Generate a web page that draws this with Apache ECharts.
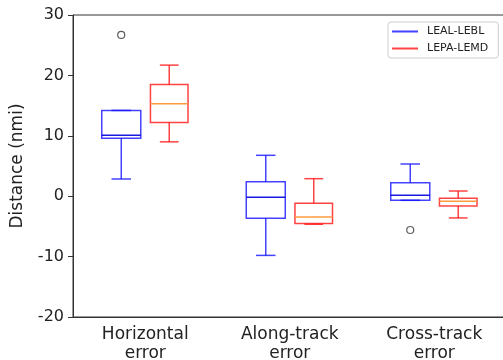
<!DOCTYPE html>
<html>
<head>
<meta charset="utf-8">
<script src="https://cdn.jsdelivr.net/npm/echarts@6/dist/echarts.min.js"></script>
<style>html,body{margin:0;padding:0;background:#fff;}#c{width:503px;height:360px;}</style>
</head>
<body>
<div id="c"></div>
<script>
var categories = ['Horizontal\nerror', 'Along-track\nerror', 'Cross-track\nerror'];
var seriesNames = ['LEAL-LEBL', 'LEPA-LEMD'];
// [lowWhisker, q1, median, q3, highWhisker]
var lealStats = [[2.85, 9.6, 10.1, 14.2, 14.2], [-9.8, -3.66, -0.18, 2.4, 6.77], [-0.68, -0.68, 0.15, 2.24, 5.33]];
var lepaStats = [[9.0, 12.2, 15.3, 18.5, 21.7], [-4.65, -4.5, -3.44, -1.18, 2.9], [-3.6, -1.62, -0.85, -0.35, 0.86]];
var lealOutliers = [[0, 26.7], [2, -5.6]];
var yTicks = [-20, -10, 0, 10, 20, 30];

var FONT = 'DejaVu Sans';
function toData(stats) {
  return stats.map(function (s, i) { return [i].concat(s); });
}
function makeRender(offFrac, widthFrac, color, medColor) {
  return function (params, api) {
    var cat = api.value(0);
    var band = api.size([1, 0])[0];
    var cx = api.coord([cat, 0])[0] + offFrac * band;
    var w = widthFrac * band;
    var capW = w / 2;
    function Y(k) { return api.coord([cat, api.value(k)])[1]; }
    var yMin = Y(1), yQ1 = Y(2), yMed = Y(3), yQ3 = Y(4), yMax = Y(5);
    var st = { stroke: color, lineWidth: 1.5, fill: null };
    return {
      type: 'group',
      children: [
        { type: 'rect', shape: { x: cx - w / 2, y: yQ3, width: w, height: yQ1 - yQ3 }, style: st },
        { type: 'line', shape: { x1: cx, y1: yQ3, x2: cx, y2: yMax }, style: st },
        { type: 'line', shape: { x1: cx, y1: yQ1, x2: cx, y2: yMin }, style: st },
        { type: 'line', shape: { x1: cx - capW / 2, y1: yMax, x2: cx + capW / 2, y2: yMax }, style: st },
        { type: 'line', shape: { x1: cx - capW / 2, y1: yMin, x2: cx + capW / 2, y2: yMin }, style: st },
        { type: 'line', shape: { x1: cx - w / 2, y1: yMed, x2: cx + w / 2, y2: yMed }, style: { stroke: medColor, lineWidth: 1.5 } }
      ]
    };
  };
}
var BLUE = 'rgba(20,20,255,0.8)';
var RED = 'rgba(255,20,20,0.8)';
var chart = echarts.init(document.getElementById('c'), null, { renderer: 'canvas' });
chart.setOption({
  animation: false,
  textStyle: { fontFamily: FONT },
  grid: { left: 73, top: 15, bottom: 43, right: -3.5, outerBoundsMode: 'none', containLabel: false, show: true, borderColor: '#333', borderWidth: 1, backgroundColor: 'transparent' },
  legend: {
    data: seriesNames,
    orient: 'vertical',
    left: 388, top: 22,
    itemWidth: 26, itemHeight: 2, itemGap: 6,
    padding: [4, 10, 4, 4],
    borderColor: '#ccc', borderWidth: 1, borderRadius: 3,
    backgroundColor: '#fff',
    icon: 'rect',
    textStyle: { fontFamily: FONT, fontSize: 11, color: '#222', padding: [0, 0, 0, 4] }
  },
  xAxis: {
    type: 'category',
    data: categories,
    axisLine: { onZero: false, lineStyle: { color: '#333', width: 1 } },
    axisTick: { alignWithLabel: true, length: 5, lineStyle: { color: '#333' } },
    axisLabel: { fontFamily: FONT, fontSize: 17, lineHeight: 19, color: '#222', margin: 8 },
    splitLine: { show: false }
  },
  yAxis: {
    type: 'value',
    min: yTicks[0], max: yTicks[yTicks.length - 1], interval: 10,
    name: 'Distance (nmi)', nameLocation: 'middle', nameGap: 47, nameRotate: 90,
    nameTextStyle: { fontFamily: FONT, fontSize: 17, color: '#222' },
    axisLine: { show: true, lineStyle: { color: '#333', width: 1 } },
    axisTick: { show: true, length: 5, lineStyle: { color: '#333' } },
    axisLabel: { fontFamily: FONT, fontSize: 16, color: '#222', margin: 9 },
    splitLine: { show: false }
  },
  series: [
    {
      name: seriesNames[0], type: 'custom',
      renderItem: makeRender(-0.166, 0.27, BLUE, 'rgba(0,0,220,0.9)'),
      itemStyle: { color: BLUE },
      encode: { x: 0, y: [1, 2, 3, 4, 5] },
      data: toData(lealStats)
    },
    {
      name: seriesNames[1], type: 'custom',
      renderItem: makeRender(0.166, 0.26, RED, '#ff9a40'),
      itemStyle: { color: RED },
      encode: { x: 0, y: [1, 2, 3, 4, 5] },
      data: toData(lepaStats)
    },
    {
      name: 'outliers', type: 'scatter',
      symbol: 'circle', symbolSize: 7, symbolOffset: [-24, 0],
      itemStyle: { color: 'transparent', borderColor: '#333', borderWidth: 1.2 },
      data: lealOutliers
    }
  ]
});
</script>
</body>
</html>
